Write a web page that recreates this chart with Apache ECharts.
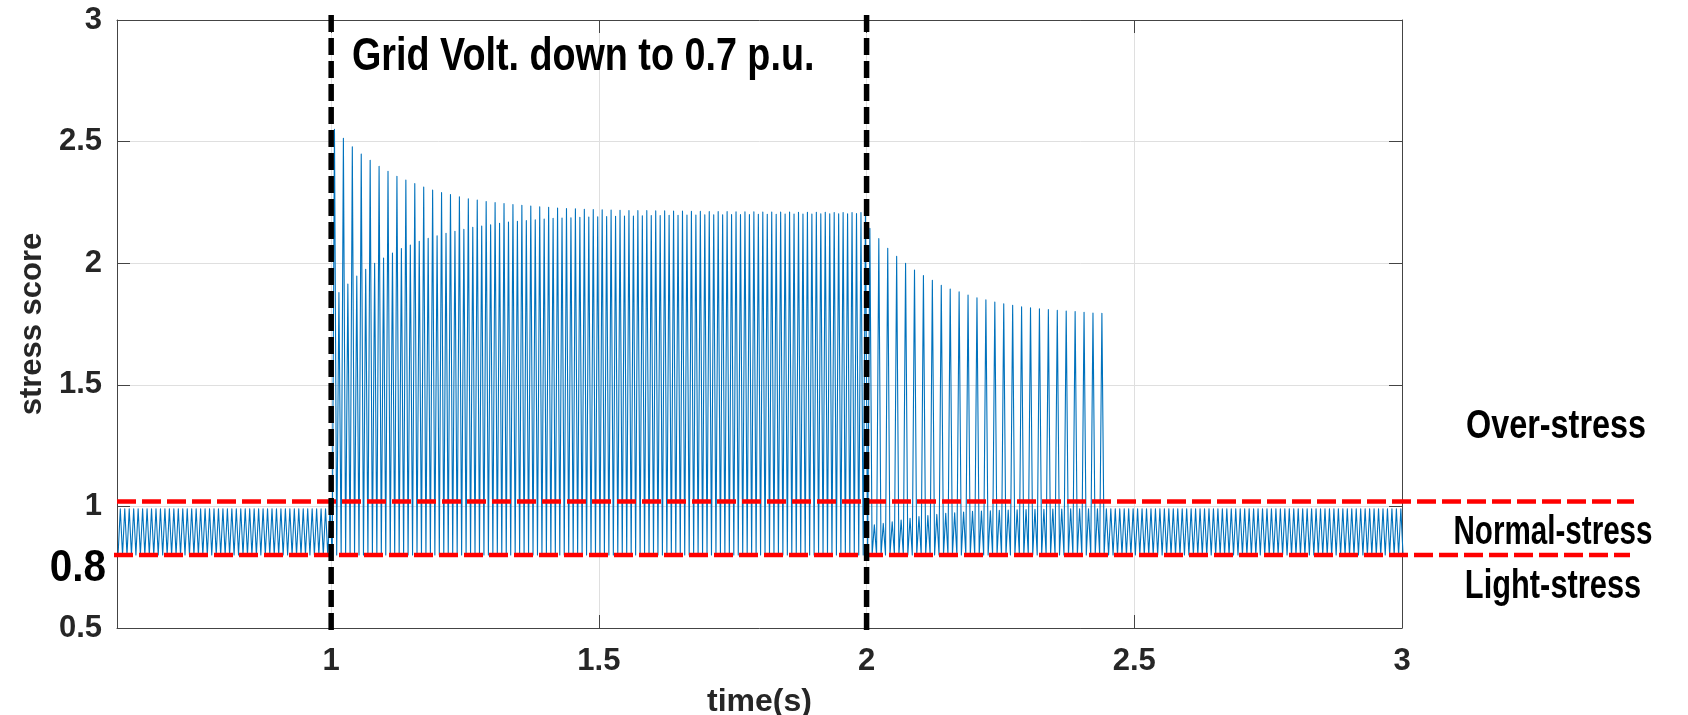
<!DOCTYPE html>
<html>
<head>
<meta charset="utf-8">
<script src="https://cdn.jsdelivr.net/npm/echarts@6/dist/echarts.min.js"></script>
<style>
html,body{margin:0;padding:0;background:#ffffff;}
#chart{width:1688px;height:715px;}
</style>
</head>
<body>
<div id="chart"></div>
<script>
// ---------- data ----------
const xTicks = [1, 1.5, 2, 2.5, 3];
const yTicks = [0.5, 1, 1.5, 2, 2.5, 3];
const stressBounds = [0.8, 1.02];          // red dashed limits (lower, upper)
const eventTimes = [1, 2];                 // black dashed event markers
const zoneLabels = ['Over-stress', 'Normal-stress', 'Light-stress'];
const eventText = 'Grid Volt. down to 0.7 p.u.';
const boundLabel = '0.8';

const T_START = 0.602;      // s, first trough
const PEAK_RATE = 120;      // peaks per second (read from spacing)
const troughLevel = 0.8;    // minimum of every cycle
const normalPeak = 0.99;    // peak level in normal operation
const preFaultPeakCount = 48;
const postRecoveryPeakCount = 66;

// tall (odd) peaks during the voltage dip, 1 s .. 2 s
const faultTall = [
  2.551, 2.514, 2.479, 2.449, 2.423, 2.398, 2.378, 2.357, 2.342, 2.327,
  2.313, 2.301, 2.290, 2.282, 2.273, 2.265, 2.260, 2.254, 2.249, 2.245,
  2.241, 2.238, 2.235, 2.232, 2.230, 2.227, 2.225, 2.224, 2.222, 2.221,
  2.220, 2.219, 2.218, 2.217, 2.216, 2.216, 2.215, 2.215, 2.214, 2.214,
  2.213, 2.213, 2.212, 2.212, 2.212, 2.211, 2.211, 2.211, 2.210, 2.210,
  2.210, 2.210, 2.209, 2.209, 2.209, 2.209, 2.208, 2.208, 2.208, 2.208
];
// short (even) peaks during the voltage dip
const faultShort = [
  1.879, 1.914, 1.947, 1.975, 2.000, 2.021, 2.042, 2.060, 2.075, 2.090,
  2.102, 2.113, 2.123, 2.131, 2.139, 2.148, 2.153, 2.158, 2.164, 2.169,
  2.172, 2.175, 2.178, 2.182, 2.185, 2.186, 2.187, 2.189, 2.190, 2.191,
  2.192, 2.193, 2.194, 2.194, 2.195, 2.196, 2.196, 2.197, 2.197, 2.198,
  2.198, 2.199, 2.199, 2.199, 2.200, 2.200, 2.200, 2.201, 2.201, 2.201,
  2.202, 2.202, 2.202, 2.202, 2.203, 2.203, 2.203, 2.203, 2.204, 2.204
];
// tall peaks after voltage recovery, 2 s .. 2.44 s
const recoveryTall = [
  2.143, 2.101, 2.061, 2.028, 2.000, 1.972, 1.949, 1.930, 1.909, 1.894,
  1.882, 1.869, 1.858, 1.849, 1.840, 1.833, 1.827, 1.821, 1.817, 1.813,
  1.809, 1.806, 1.803, 1.801, 1.798, 1.795, 1.794
];
// short peaks after voltage recovery
const recoveryShort = [
  0.924, 0.930, 0.937, 0.944, 0.951, 0.958, 0.962, 0.967, 0.972, 0.974,
  0.977, 0.980, 0.981, 0.982, 0.984, 0.985, 0.986, 0.987, 0.988, 0.988,
  0.989, 0.989, 0.990, 0.990, 0.990, 0.990, 0.990
];

// ---------- layout constants (not data) ----------
const X_RANGE = [0.6, 3];
const Y_RANGE = [0.5, 3];
const RED_PAD = [[-3, 228], [0, 232]];   // px beyond the plot box (lower line, upper line)
const BLACK_PAD = [5, 5];                // px beyond top / bottom of the plot box
const NOTE_FONT = '"Liberation Sans", Arial, Helvetica, sans-serif';
const AXFONT = '"Liberation Sans", Arial, Helvetica, sans-serif';

// ---------- build the series ----------
const peaks = [];
for (let i = 0; i < preFaultPeakCount; i++) peaks.push(normalPeak);
faultTall.forEach((v, i) => { peaks.push(v, faultShort[i]); });
recoveryTall.forEach((v, i) => { peaks.push(v, recoveryShort[i]); });
for (let i = 0; i < postRecoveryPeakCount; i++) peaks.push(normalPeak);

const signal = [];
for (let k = 0; k <= 2 * peaks.length; k++) {
  const t = T_START + k / (2 * PEAK_RATE);
  const v = (k % 2 === 1) ? peaks[(k - 1) / 2] : troughLevel;
  signal.push([t, v]);
}

const axisColor = '#444444';
const gridColor = '#dfdfdf';
const labelColor = '#262626';

const chart = echarts.init(document.getElementById('chart'), null, { renderer: 'canvas' });
chart.setOption({
  animation: false,
  backgroundColor: '#ffffff',
  grid: { left: 117, right: 286, top: 20, bottom: 87, containLabel: false, outerBoundsMode: 'none' },
  xAxis: [{
    type: 'value', min: X_RANGE[0], max: X_RANGE[1], position: 'bottom',
    name: 'time(s)', nameLocation: 'middle', nameGap: 58,
    nameTextStyle: { fontFamily: AXFONT, fontWeight: 'bold', fontSize: 32, color: labelColor },
    axisLine: { show: true, onZero: false, lineStyle: { color: axisColor, width: 1 } },
    axisTick: { show: true, inside: true, length: 13, customValues: xTicks, lineStyle: { color: axisColor } },
    axisLabel: { show: true, customValues: xTicks, margin: 18, fontFamily: AXFONT, fontWeight: 'bold', fontSize: 31, color: labelColor },
    splitLine: { show: true, lineStyle: { color: gridColor, width: 1 } }
  }, {
    type: 'value', min: X_RANGE[0], max: X_RANGE[1], position: 'top',
    axisLine: { show: true, onZero: false, lineStyle: { color: axisColor, width: 1 } },
    axisTick: { show: true, inside: true, length: 13, customValues: xTicks, lineStyle: { color: axisColor } },
    axisLabel: { show: false, customValues: xTicks },
    splitLine: { show: false }
  }],
  yAxis: [{
    type: 'value', min: Y_RANGE[0], max: Y_RANGE[1], position: 'left',
    name: 'stress score', nameLocation: 'middle', nameGap: 62, nameRotate: 90,
    nameTextStyle: { fontFamily: AXFONT, fontWeight: 'bold', fontSize: 31, color: labelColor },
    axisLine: { show: true, onZero: false, lineStyle: { color: axisColor, width: 1 } },
    axisTick: { show: true, inside: true, length: 13, customValues: yTicks, lineStyle: { color: axisColor } },
    axisLabel: { show: true, customValues: yTicks, margin: 15, fontFamily: AXFONT, fontWeight: 'bold', fontSize: 31, color: labelColor,
      formatter: v => String(v) },
    splitLine: { show: true, lineStyle: { color: gridColor, width: 1 } }
  }, {
    type: 'value', min: Y_RANGE[0], max: Y_RANGE[1], position: 'right',
    axisLine: { show: true, onZero: false, lineStyle: { color: axisColor, width: 1 } },
    axisTick: { show: true, inside: true, length: 13, customValues: yTicks, lineStyle: { color: axisColor } },
    axisLabel: { show: false, customValues: yTicks },
    splitLine: { show: false }
  }],
  series: [{
    name: 'stress score',
    type: 'line',
    xAxisIndex: 0, yAxisIndex: 0,
    data: signal,
    showSymbol: false,
    symbol: 'none',
    sampling: null,
    clip: true,
    lineStyle: { color: '#0072BD', width: 1.1, join: 'round' },
    z: 2
  }]
});

// ---------- reference lines and annotations, placed through the axis scales ----------
const toPx = (x, y) => chart.convertToPixel({ gridIndex: 0 }, [x, y]);
const graphics = [];

stressBounds.forEach((b, i) => {
  const p0 = toPx(X_RANGE[0], b), p1 = toPx(X_RANGE[1], b);
  graphics.push({
    type: 'line', z: 20, silent: true,
    shape: { x1: p0[0] + RED_PAD[i][0], y1: p0[1], x2: p1[0] + RED_PAD[i][1], y2: p1[1] },
    style: { stroke: '#ff0000', lineWidth: 4.5, lineDash: [19, 6], lineCap: 'butt' }
  });
});
eventTimes.forEach(t => {
  const top = toPx(t, Y_RANGE[1]), bot = toPx(t, Y_RANGE[0]);
  graphics.push({
    type: 'line', z: 21, silent: true,
    shape: { x1: top[0], y1: top[1] - BLACK_PAD[0], x2: bot[0], y2: bot[1] + BLACK_PAD[1] },
    style: { stroke: '#000000', lineWidth: 5.5, lineDash: [17, 6], lineCap: 'butt' }
  });
});

graphics.push(
  { type: 'text', x: 352, y: 57, z: 30, scaleX: 0.82, silent: true,
    style: { text: eventText, font: 'bold 46px ' + NOTE_FONT, fill: '#000', align: 'left', verticalAlign: 'middle' } },
  { type: 'text', x: 1556, y: 427, z: 30, scaleX: 0.81, silent: true,
    style: { text: zoneLabels[0], font: 'bold 40px ' + NOTE_FONT, fill: '#000', align: 'center', verticalAlign: 'middle' } },
  { type: 'text', x: 1553, y: 533, z: 30, scaleX: 0.74, silent: true,
    style: { text: zoneLabels[1], font: 'bold 40px ' + NOTE_FONT, fill: '#000', align: 'center', verticalAlign: 'middle' } },
  { type: 'text', x: 1553, y: 587, z: 30, scaleX: 0.77, silent: true,
    style: { text: zoneLabels[2], font: 'bold 40px ' + NOTE_FONT, fill: '#000', align: 'center', verticalAlign: 'middle' } },
  { type: 'text', x: 106, y: 569, z: 30, scaleX: 0.92, silent: true,
    style: { text: boundLabel, font: 'bold 44px ' + NOTE_FONT, fill: '#000', align: 'right', verticalAlign: 'middle' } }
);

chart.setOption({ graphic: graphics });
</script>
</body>
</html>
